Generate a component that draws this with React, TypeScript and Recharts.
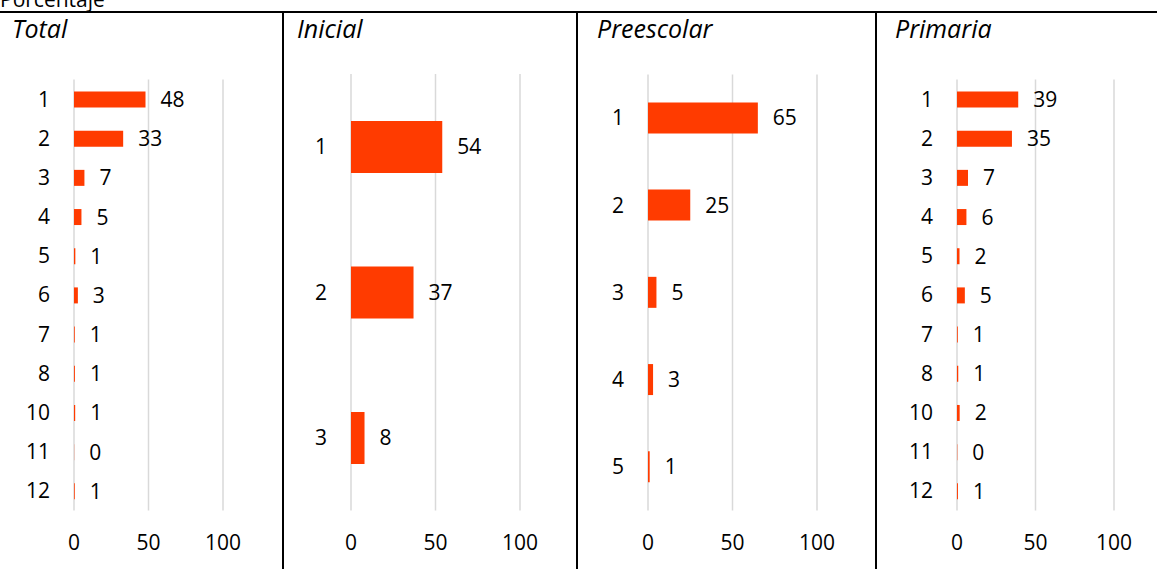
import React from 'react';
import { BarChart, Bar, XAxis, YAxis, CartesianGrid, LabelList } from 'recharts';

const totalCats = ['1', '2', '3', '4', '5', '6', '7', '8', '10', '11', '12'];
const totalValues = [48, 33, 7, 5, 0.9, 2.6, 0.5, 0.6, 0.8, 0.1, 0.5];

const inicialCats = ['1', '2', '3'];
const inicialValues = [54, 37, 8];

const preescolarCats = ['1', '2', '3', '4', '5'];
const preescolarValues = [65, 25, 5, 3, 1];

const primariaCats = ['1', '2', '3', '4', '5', '6', '7', '8', '10', '11', '12'];
const primariaValues = [39, 35, 7, 6, 1.6, 5, 0.5, 0.8, 1.7, 0.2, 0.6];

const xTicks = [0, 50, 100];

const FONT = '"Open Sans", "Noto Sans", sans-serif';
const BAR_COLOR = '#ff3b00';

interface PanelProps {
  title: string;
  titleX: number;
  cats: string[];
  values: number[];
  left: number;
  width: number;
  axisW: number;
  right: number;
  top: number;
  bottom: number;
  barSize: number;
}

const Panel = ({ title, titleX, cats, values, left, width, axisW, right, top, bottom, barSize }: PanelProps) => {
  const data = cats.map((c, i) => ({ name: c, v: values[i] }));
  return (
    <div style={{ position: 'absolute', left, top: 0, width, height: 569 }}>
      <div
        style={{
          position: 'absolute',
          left: titleX,
          top: 11,
          fontFamily: FONT,
          fontStyle: 'italic',
          fontSize: 25,
          lineHeight: 'normal',
          color: '#000',
        }}
      >
        {title}
      </div>
      <BarChart
        width={width}
        height={569}
        data={data}
        layout="vertical"
        margin={{ top, right, left: 0, bottom: 0 }}
        barCategoryGap={0}
      >
        <CartesianGrid horizontal={false} stroke="#d9d9d9" strokeWidth={1.5} />
        <XAxis
          type="number"
          domain={[0, 100]}
          ticks={xTicks}
          axisLine={false}
          tickLine={false}
          tickSize={0}
          tickMargin={25}
          height={bottom}
          tick={{ fill: '#000', fontSize: 21, fontFamily: FONT }}
        />
        <YAxis
          type="category"
          dataKey="name"
          width={axisW}
          axisLine={false}
          tickLine={false}
          tickSize={0}
          tickMargin={24}
          tick={{ fill: '#000', fontSize: 21, fontFamily: FONT }}
        />
        <Bar dataKey="v" fill={BAR_COLOR} barSize={barSize} isAnimationActive={false}>
          <LabelList
            dataKey="v"
            position="right"
            offset={15}
            formatter={(v: number) => Math.round(v)}
            style={{ fill: '#000', fontSize: 21, fontFamily: FONT }}
          />
        </Bar>
      </BarChart>
    </div>
  );
};

export default function App() {
  return (
    <div
      style={{
        position: 'absolute',
        left: 0,
        top: 0,
        width: 1157,
        height: 569,
        overflow: 'hidden',
        background: '#fff',
      }}
    >
      <div
        style={{
          position: 'absolute',
          left: 0,
          top: -15,
          fontFamily: FONT,
          fontSize: 21,
          color: '#000',
        }}
      >
        Porcentaje
      </div>
      <Panel title="Total" titleX={12} cats={totalCats} values={totalValues} left={0} width={283} axisW={74} right={60} top={79.5} bottom={58.5} barSize={16} />
      <Panel title="Inicial" titleX={14} cats={inicialCats} values={inicialValues} left={283} width={294} axisW={68} right={57} top={74} bottom={58.5} barSize={52} />
      <Panel title="Preescolar" titleX={20} cats={preescolarCats} values={preescolarValues} left={577} width={299} axisW={71} right={59} top={74.4} bottom={58.5} barSize={31} />
      <Panel title="Primaria" titleX={19} cats={primariaCats} values={primariaValues} left={876} width={281} axisW={81} right={43} top={79.5} bottom={58.5} barSize={16} />
      <div style={{ position: 'absolute', left: 0, top: 11, width: 1157, height: 2, background: '#000' }} />
      {[282, 576, 875].map((x) => (
        <div key={x} style={{ position: 'absolute', left: x, top: 11, width: 2, height: 558, background: '#000' }} />
      ))}
    </div>
  );
}
